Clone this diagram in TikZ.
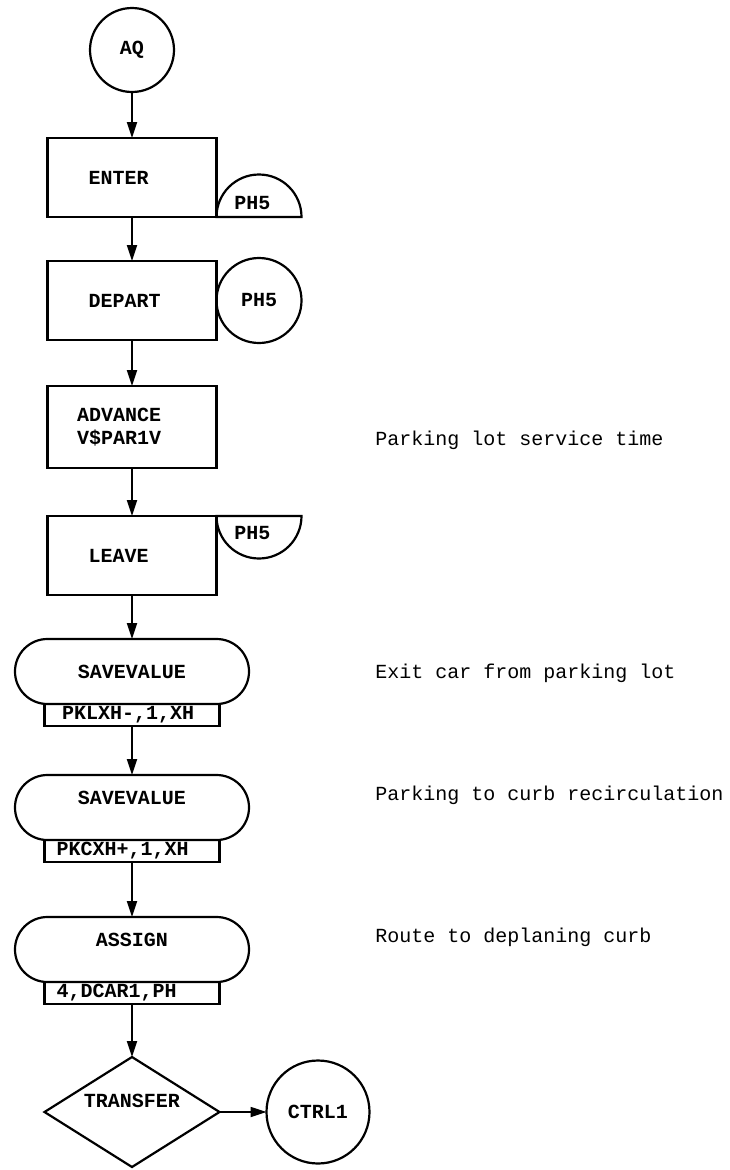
\documentclass[tikz,border=0pt]{standalone}
\usepackage{fontspec}
\setmonofont{Liberation Mono}
\usepackage{tikz}
\usetikzlibrary{shapes.geometric, arrows.meta, positioning, calc}

\begin{document}
\begin{tikzpicture}[
    node distance=46pt,
    every node/.style={font=\ttfamily\bfseries\fontsize{20}{23}\selectfont, outer sep=0pt},
    block/.style={rectangle, draw, line width=2.2pt, minimum width=169pt, minimum height=79pt, text width=87pt, align=left, inner sep=0pt},
    circ/.style={circle, draw, line width=2.2pt, inner sep=0pt},
    stadium/.style={rectangle, draw, line width=2.2pt, rounded corners=32.4pt, minimum width=234pt, minimum height=65pt, align=center, inner sep=0pt},
    argbox/.style={rectangle, draw, line width=2.2pt, minimum width=175pt, minimum height=22pt, text width=151pt, align=left, inner sep=0pt},
    decision/.style={diamond, draw, line width=2.2pt, minimum width=175pt, minimum height=110pt, aspect=1.6, inner sep=0pt},
    edge/.style={line width=2.2pt},
    note/.style={font=\ttfamily\fontsize{20}{23}\selectfont, anchor=base west},
    arrow/.style={-{Triangle[length=16pt, width=10pt]}, line width=1.8pt}
]
\useasboundingbox (0,0) rectangle (730pt,-1170pt);

% GPSS block chain
\node[circ, minimum size=84pt] (aq) at (132pt,-50pt) {AQ};
\node[block, below=46pt of aq] (enter) {ENTER};
\node[block, below=44pt of enter] (depart) {DEPART};
\node[block, below=46pt of depart, minimum height=82pt, text width=110pt] (advance) {ADVANCE\\V\$PAR1V};
\node[block, below=48pt of advance] (leave) {LEAVE};
\node[stadium, below=44pt of leave] (sv1) {SAVEVALUE};
\node[argbox, below=0pt of sv1, text width=140pt] (arg1) {PKLXH-,1,XH};
\node[stadium, below=49pt of arg1, text depth=20pt] (sv2) {SAVEVALUE};
\node[argbox, below=0pt of sv2] (arg2) {PKCXH+,1,XH};
\node[stadium, below=55pt of arg2, text depth=20pt] (assign) {ASSIGN};
\node[argbox, below=0pt of assign] (arg3) {4,DCAR1,PH};
\node[decision, below=53pt of arg3, text depth=22pt] (transfer) {TRANSFER};
\node[circ, minimum size=103pt, right=47pt of transfer] (ctrl) {CTRL1};

% Storage PH5
\draw[edge] (enter.south east) arc[start angle=180, end angle=0, radius=42.5pt] -- cycle;
\node (enterph) at ($(enter.south east)+(36pt,14pt)$) {PH5};
\node[circ, minimum size=85pt, right=0pt of depart] (departph) {PH5};
\draw[edge] (leave.north east) arc[start angle=180, end angle=360, radius=42.5pt] -- cycle;
\node (leaveph) at ($(leave.north east)+(36pt,-17pt)$) {PH5};

% Flow
\draw[arrow] (aq) -- (enter);
\draw[arrow] (enter) -- (depart);
\draw[arrow] (depart) -- (advance);
\draw[arrow] (advance) -- (leave);
\draw[arrow] (leave) -- (sv1);
\draw[arrow] (arg1) -- (sv2);
\draw[arrow] (arg2) -- (assign);
\draw[arrow] (arg3) -- (transfer);
\draw[arrow] (transfer) -- (ctrl);

% Comments
\node[note] (advnote) at (372pt,-445pt) {Parking lot service time};
\node[note] (sv1note) at (372pt,-678pt) {Exit car from parking lot};
\node[note] (sv2note) at (372pt,-800pt) {Parking to curb recirculation};
\node[note] (asgnote) at (372pt,-942pt) {Route to deplaning curb};

\end{tikzpicture}
\end{document}
